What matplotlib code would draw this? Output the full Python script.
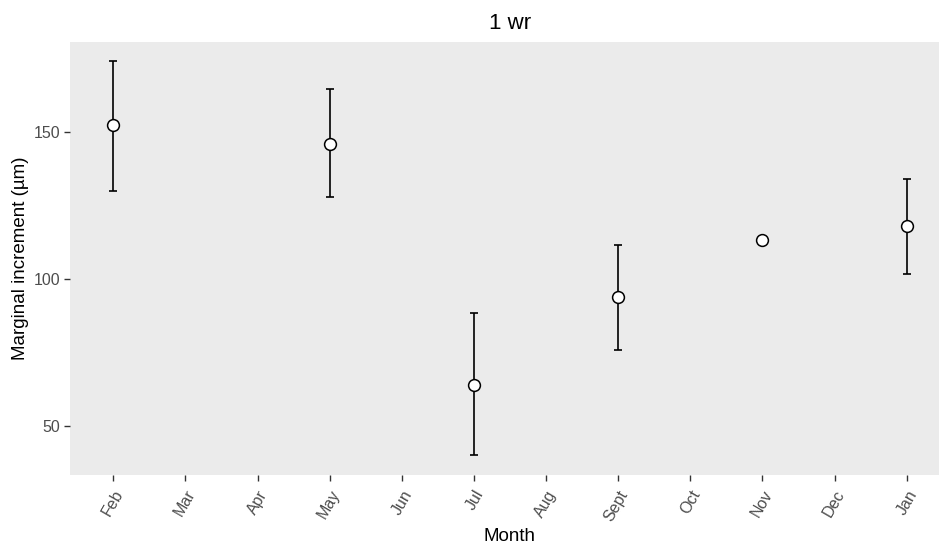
import matplotlib.pyplot as plt
import numpy as np

plt.rcParams['font.family'] = ['Liberation Sans', 'DejaVu Sans']

months = ["Feb", "Mar", "Apr", "May", "Jun", "Jul", "Aug", "Sept", "Oct", "Nov", "Dec", "Jan"]
mean_inc = [152.3, np.nan, np.nan, 146.0, np.nan, 64.2, np.nan, 94.1, np.nan, 113.2, np.nan, 118.2]
upper_inc = [174.1, np.nan, np.nan, 164.6, np.nan, 88.6, np.nan, 111.7, np.nan, np.nan, np.nan, 134.0]
lower_inc = [130.1, np.nan, np.nan, 127.8, np.nan, 40.2, np.nan, 75.9, np.nan, np.nan, np.nan, 101.8]

x = np.arange(len(months))
mean_arr = np.array(mean_inc)
up_arr = np.array(upper_inc)
lo_arr = np.array(lower_inc)

fig = plt.figure(figsize=(9.39, 5.47), dpi=100)
W, H = 939, 547
left_px, right_px, top_px, bot_px = 70, 950, 41.5, 475
ax = fig.add_axes([left_px / W, (H - bot_px) / H, (right_px - left_px) / W, (bot_px - top_px) / H])
ax.set_facecolor("#EBEBEB")
for s in ax.spines.values():
    s.set_visible(False)

has_err = ~np.isnan(up_arr)
ax.errorbar(x[has_err], mean_arr[has_err],
            yerr=[mean_arr[has_err] - lo_arr[has_err], up_arr[has_err] - mean_arr[has_err]],
            fmt="none", ecolor="black", elinewidth=1.2, capsize=3, capthick=1.2, zorder=2)
has_pt = ~np.isnan(mean_arr)
ax.plot(x[has_pt], mean_arr[has_pt], "o", markersize=8.5, markerfacecolor="white",
        markeredgecolor="black", markeredgewidth=1.1, zorder=3)

ax.set_xlim(-0.6, 11.6)
ax.set_ylim(33.5, 180.8)
ax.set_xticks(x)
ax.set_xticklabels(months, rotation=60, ha="right", va="top", rotation_mode="anchor")
ax.set_yticks([50, 100, 150])
ax.tick_params(axis="both", colors="#333333", labelcolor="#4d4d4d", length=4, width=1,
               labelsize=11.5, pad=3)
ax.tick_params(axis="x", pad=5)

ax.set_xlabel("Month", fontsize=13.5, color="black", labelpad=3)
ax.set_ylabel("Marginal increment (\u00b5m)", fontsize=13.5, color="black", labelpad=3)
ax.set_title("1 wr", fontsize=16, color="black", pad=9)

fig.savefig("out.png", dpi=100)
